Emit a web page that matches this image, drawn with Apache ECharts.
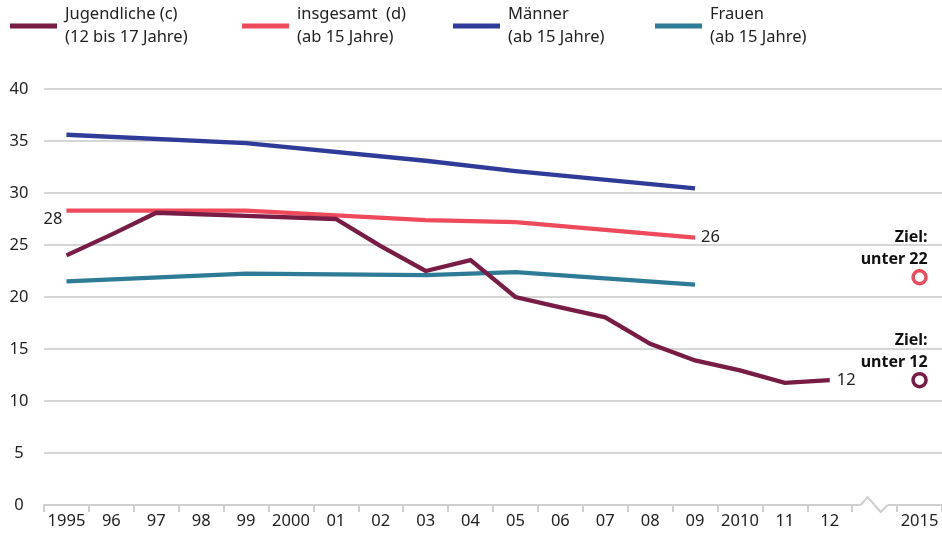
<!DOCTYPE html>
<html>
<head>
<meta charset="utf-8">
<script src="https://cdn.jsdelivr.net/npm/echarts@6/dist/echarts.min.js"></script>
<style>html,body{margin:0;padding:0;background:#fff}#c{width:942px;height:533px}</style>
</head>
<body>
<div id="c"></div>
<script>
var categories = ['1995','96','97','98','99','2000','01','02','03','04','05','06','07','08','09','2010','11','12','','2015'];
var jugendliche = [24,26,28.1,null,27.8,null,27.5,24.9,22.5,23.55,20,19,18.05,15.5,13.9,12.95,11.75,12,null,null];
var insgesamt = [28.3,null,null,null,28.3,null,null,null,27.4,null,27.2,null,null,null,25.7,null,null,null,null,null];
var maenner = [35.6,null,null,null,34.8,null,null,null,33.1,null,32.1,null,null,null,30.45,null,null,null,null,null];
var frauen = [21.5,null,null,null,22.25,null,null,null,22.1,null,22.4,null,null,null,21.2,null,null,null,null,null];
var zielGesamt = [null,null,null,null,null,null,null,null,null,null,null,null,null,null,null,null,null,null,null,21.9];
var zielJugend = [null,null,null,null,null,null,null,null,null,null,null,null,null,null,null,null,null,null,null,12];
var yTicks = [0,5,10,15,20,25,30,35,40];
var names = ['Jugendliche (c)','insgesamt  (d)','Männer','Frauen'];
var subNames = ['(12 bis 17 Jahre)','(ab 15 Jahre)','(ab 15 Jahre)','(ab 15 Jahre)'];
var colors = ['#781b45','#ee4a5b','#2f3b98','#2e7b97'];

var FONT = 'Noto Sans';
var chart = echarts.init(document.getElementById('c'), null, {renderer:'canvas'});

function legend(i, left){
  return {
    data:[names[i]], left:left, top:-2, orient:'horizontal',
    icon:'rect', itemWidth:47, itemHeight:5, itemGap:0,
    selectedMode:false,
    formatter:function(n){ return n + '\n' + subNames[names.indexOf(n)]; },
    textStyle:{fontFamily:FONT, fontSize:16.5, color:'#222', lineHeight:23, padding:[0,0,0,3]}
  };
}
function lineSeries(i, data, extra){
  var s = {
    name:names[i], type:'line', data:data, connectNulls:true,
    symbol:'circle', symbolSize:0.01, showSymbol:true, showAllSymbol:true,
    color:colors[i], itemStyle:{color:colors[i]},
    lineStyle:{width:4.3, color:colors[i], cap:'butt', join:'miter'},
    z: 3 + i, animation:false
  };
  for (var k in extra) s[k]=extra[k];
  return s;
}

var option = {
  animation:false,
  textStyle:{fontFamily:FONT},
  legend:[legend(0,5), legend(1,237), legend(2,448), legend(3,650)],
  grid:{left:44, top:89, width:903, height:416, containLabel:false},
  xAxis:{
    type:'category', data:categories, boundaryGap:true,
    axisLine:{show:true, lineStyle:{color:'#cfcfcf', width:2}},
    axisTick:{show:true, length:7, lineStyle:{color:'#cfcfcf', width:2}},
    axisLabel:{interval:0, color:'#222', fontSize:16.5, fontFamily:FONT, margin:8},
    splitLine:{show:false}
  },
  yAxis:{
    type:'value', min:0, max:40, interval:5,
    axisLine:{show:false}, axisTick:{show:false},
    axisLabel:{color:'#222', fontSize:16.5, fontFamily:FONT, align:'center', margin:25,
      formatter:function(v){ return yTicks.indexOf(v)>=0 ? String(v) : ''; }},
    splitLine:{show:true, lineStyle:{color:'#d6d6d6', width:2}}
  },
  series:[
    lineSeries(2, maenner, {}),
    lineSeries(3, frauen, {}),
    lineSeries(1, insgesamt, {
      label:{show:true, color:'#222', fontSize:16.5, fontFamily:FONT,
        position:'right', distance:6,
        formatter:function(p){ if(p.dataIndex===14) return '26'; if(p.dataIndex===0) return '28'; return ''; }
      },
      labelLayout:function(p){ if(p.dataIndex===0){ return {x:p.rect.x - p.labelRect.width - 4, align:'left'}; } return {}; }
    }),
    lineSeries(0, jugendliche, {
      z:7,
      label:{show:true, color:'#222', fontSize:16.5, fontFamily:FONT,
        position:'right', distance:7,
        formatter:function(p){ return p.dataIndex===17 ? '12' : ''; }
      }
    }),
    {
      name:'ZielGesamt', type:'scatter', data:zielGesamt, symbol:'circle', symbolSize:13,
      itemStyle:{color:'#fff', borderColor:colors[1], borderWidth:3.5, opacity:1}, z:10,
      label:{show:true, position:'top', align:'right', offset:[8,6], color:'#111',
        fontFamily:FONT, fontSize:16, fontWeight:'bold', lineHeight:22,
        formatter:'Ziel:\nunter 22'}
    },
    {
      name:'ZielJugend', type:'scatter', data:zielJugend, symbol:'circle', symbolSize:13,
      itemStyle:{color:'#fff', borderColor:colors[0], borderWidth:3.5, opacity:1}, z:10,
      label:{show:true, position:'top', align:'right', offset:[8,6], color:'#111',
        fontFamily:FONT, fontSize:16, fontWeight:'bold', lineHeight:22,
        formatter:'Ziel:\nunter 12'}
    }
  ]
};
chart.setOption(option);

// axis break (zigzag) at the empty category
var cx = chart.convertToPixel({xAxisIndex:0}, 18);
var y0 = chart.convertToPixel({yAxisIndex:0}, 0);
chart.setOption({
  graphic:[
    {type:'rect', shape:{x:cx-14, y:y0-4, width:27, height:8}, style:{fill:'#fff'}, z:100},
    {type:'polyline', shape:{points:[[cx-14,y0],[cx-7,y0-8],[cx+6,y0+7],[cx+13,y0]]},
      style:{stroke:'#cfcfcf', lineWidth:2, fill:null}, z:101}
  ]
});
</script>
</body>
</html>
